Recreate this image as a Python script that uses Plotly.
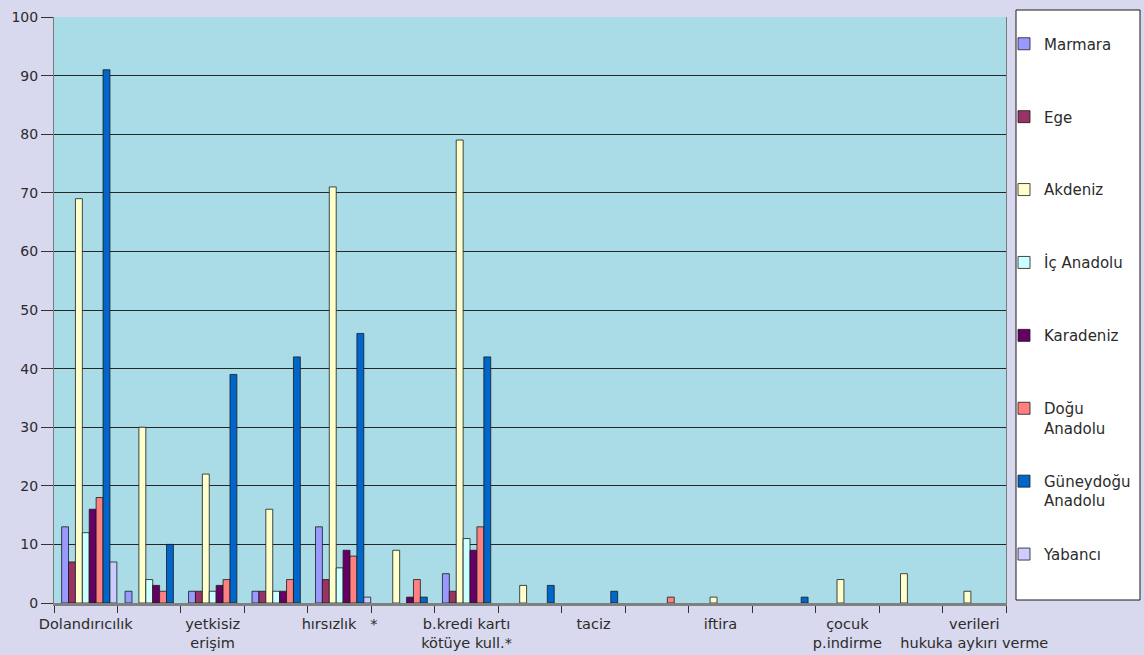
import plotly.graph_objects as go

# ---- data ----
positions = list(range(1, 16))  # 15 crime categories (Excel shows every other label)
tick_positions = [1, 3, 5, 7, 9, 11, 13, 15]
tick_labels = [
    "Dolandırıcılık",
    "yetkisiz<br>erişim",
    "hırsızlık   *",
    "b.kredi kartı<br>kötüye kull.*",
    "taciz",
    "iftira",
    "çocuk<br>p.indirme",
    "verileri<br>hukuka aykırı verme",
]

marmara = [13, 2, 2, 2, 13, 0, 5, 0, 0, 0, 0, 0, 0, 0, 0]
ege = [7, 0, 2, 2, 4, 0, 2, 0, 0, 0, 0, 0, 0, 0, 0]
akdeniz = [69, 30, 22, 16, 71, 9, 79, 3, 0, 0, 1, 0, 4, 5, 2]
ic_anadolu = [12, 4, 2, 2, 6, 0, 11, 0, 0, 0, 0, 0, 0, 0, 0]
karadeniz = [16, 3, 3, 2, 9, 1, 9, 0, 0, 0, 0, 0, 0, 0, 0]
dogu_anadolu = [18, 2, 4, 4, 8, 4, 13, 0, 0, 1, 0, 0, 0, 0, 0]
guneydogu_anadolu = [91, 10, 39, 42, 46, 1, 42, 3, 2, 0, 0, 1, 0, 0, 0]
yabanci = [7, 0, 0, 0, 1, 0, 0, 0, 0, 0, 0, 0, 0, 0, 0]

series_names = ["Marmara", "Ege", "Akdeniz", "İç Anadolu", "Karadeniz",
                "Doğu<br>Anadolu", "Güneydoğu<br>Anadolu", "Yabancı"]
series_values = [marmara, ege, akdeniz, ic_anadolu, karadeniz,
                 dogu_anadolu, guneydogu_anadolu, yabanci]
series_colors = ["#9999FF", "#993366", "#FFFFCC", "#CCFFFF", "#660066",
                 "#FF8080", "#0066CC", "#CCCCFF"]

# ---- figure geometry ----
W, H = 1144, 655
L, R, T, B = 54, 138, 17, 52
plot_w = W - L - R
plot_h = H - T - B

def px_x(px):
    return (px - L) / plot_w

def px_y(py):
    return (H - B - py) / plot_h

FONT = "DejaVu Sans"
TXT = "#2b2b2b"
# small horizontal shift of the bars (Excel 3-D wall depth), in category units
depth = 3.5 / (plot_w / 15)

fig = go.Figure()
for i, (name, vals, col) in enumerate(zip(series_names, series_values, series_colors)):
    fig.add_trace(go.Bar(
        x=positions, y=[v if v else None for v in vals], name=name,
        marker=dict(color=col, line=dict(color="#1a1a1a", width=0.8)),
        legend="legend" if i == 0 else f"legend{i+1}",
        showlegend=True,
        hoverinfo="x+y+name",
    ))

legend_centers = [42.5 + 72.9 * i for i in range(len(series_names))]
legend_layouts = {}
for i, cy in enumerate(legend_centers):
    key = "legend" if i == 0 else f"legend{i+1}"
    legend_layouts[key] = dict(
        x=px_x(1004), xanchor="left",
        y=px_y(cy - 15), yanchor="top",
        bgcolor="rgba(0,0,0,0)", borderwidth=0,
        font=dict(family=FONT, size=15, color=TXT),
        valign="top", itemclick=False, itemdoubleclick=False,
    )

fig.update_layout(
    width=W, height=H,
    margin=dict(l=L, r=R, t=T, b=B, autoexpand=False),
    paper_bgcolor="#D8D9EE",
    plot_bgcolor="#A9DCE6",
    barmode="group",
    bargap=0.13,
    bargroupgap=0.0,
    showlegend=True,
    font=dict(family=FONT, size=15, color=TXT),
    shapes=[dict(
        type="rect", xref="paper", yref="paper",
        x0=px_x(1016), x1=px_x(1140), y0=px_y(600), y1=px_y(10),
        fillcolor="white", line=dict(color="#1a1a1a", width=1), layer="below",
    )],
    **legend_layouts,
)

fig.update_xaxes(
    range=[0.5 - depth, 15.5 - depth],
    tickmode="array", tickvals=[p - depth for p in tick_positions], ticktext=tick_labels,
    ticks="", showgrid=False, zeroline=False,
    showline=True, linecolor="#808080", linewidth=3,
    ticklabelstandoff=6,
    tickfont=dict(family=FONT, size=14.5, color=TXT),
    minor=dict(tickmode="array", tickvals=[p + 0.5 - depth for p in [0] + positions],
               ticks="outside", ticklen=7, tickcolor="#333333", tickwidth=1,
               showgrid=False),
)
fig.update_yaxes(
    range=[0, 100], dtick=10,
    ticks="outside", ticklen=12, tickcolor="#333333", tickwidth=1,
    showgrid=True, gridcolor="#262626", gridwidth=1,
    zeroline=False,
    showline=True, linecolor="#7a7a7a", linewidth=1, mirror=True,
    tickfont=dict(family=FONT, size=14, color=TXT),
)

fig.write_html("out.html")
